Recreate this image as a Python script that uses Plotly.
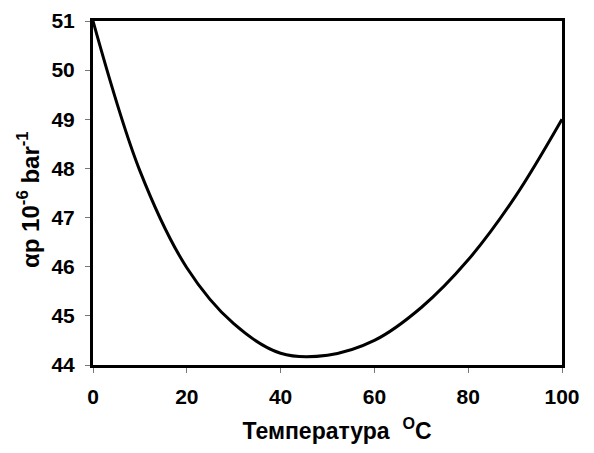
import plotly.graph_objects as go

temperature = [0, 10, 20, 30, 40, 50, 60, 70, 80, 90, 100]
alpha_p = [51.0, 47.95, 45.98, 44.84, 44.24, 44.2, 44.5, 45.17, 46.14, 47.42, 49.0]

x_ticks = [0, 20, 40, 60, 80, 100]
y_ticks = [44, 45, 46, 47, 48, 49, 50, 51]

FONT = "Liberation Sans, Arial, sans-serif"

fig = go.Figure()
fig.add_trace(go.Scatter(
    x=temperature, y=alpha_p, mode="lines",
    line=dict(color="black", width=3, shape="spline", smoothing=1.0),
    showlegend=False, hoverinfo="x+y"))

fig.update_layout(
    width=586, height=445,
    margin=dict(l=85, r=32, t=13, b=88),
    paper_bgcolor="white", plot_bgcolor="white",
    font=dict(family=FONT, color="black"),
)
fig.update_xaxes(
    automargin=False,
    range=[0, 100], tickvals=x_ticks, ticktext=[str(v) for v in x_ticks],
    showgrid=False, zeroline=False,
    showline=True, linecolor="black", linewidth=3, mirror=True,
    ticks="outside", ticklen=5, tickwidth=1, tickcolor="#777777",
    ticklabelstandoff=6,
    tickfont=dict(family=FONT, size=21, color="black", weight="bold"),
    title=dict(text="&nbsp;&nbsp;&nbsp;<b>Температура  <sup>O</sup>C</b>",
               font=dict(family=FONT, size=23, color="black"), standoff=16),
)
fig.update_yaxes(
    automargin=False,
    range=[44, 51], tickvals=y_ticks, ticktext=[str(v) for v in y_ticks],
    showgrid=False, zeroline=False,
    showline=True, linecolor="black", linewidth=3, mirror=True,
    ticks="outside", ticklen=5, tickwidth=1, tickcolor="#777777",
    ticklabelstandoff=6,
    tickfont=dict(family=FONT, size=21, color="black", weight="bold"),
    title=dict(text="<b>αp 10<sup>-6</sup> bar<sup>-1</sup></b>&nbsp;&nbsp;",
               font=dict(family=FONT, size=24, color="black"), standoff=6),
)

fig.write_html("out.html")
